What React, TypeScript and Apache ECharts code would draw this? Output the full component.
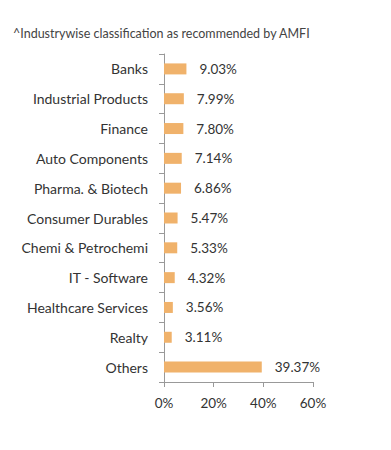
import React, { useEffect, useRef } from "react";
import * as echarts from "echarts";

const categories = [
  "Banks",
  "Industrial Products",
  "Finance",
  "Auto Components",
  "Pharma. & Biotech",
  "Consumer Durables",
  "Chemi & Petrochemi",
  "IT - Software",
  "Healthcare Services",
  "Realty",
  "Others",
];
const values = [9.03, 7.99, 7.8, 7.14, 6.86, 5.47, 5.33, 4.32, 3.56, 3.11, 39.37];
const xTicks = [0, 20, 40, 60];
const title = "^Industrywise classification as recommended by AMFI";

export default function App() {
  const ref = useRef<HTMLDivElement>(null);
  useEffect(() => {
    if (!ref.current) return;
    const chart = echarts.init(ref.current, null, { renderer: "svg" });
    chart.setOption({
      animation: false,
      textStyle: { fontFamily: "Lato" },
      title: {
        text: title,
        left: 0,
        top: 14,
        textStyle: { fontSize: 12.5, fontWeight: "normal", color: "#444", fontFamily: "Lato" },
      },
      grid: { left: 156, right: 78, top: 46, bottom: 60, containLabel: false },
      xAxis: {
        type: "value",
        min: xTicks[0],
        max: xTicks[xTicks.length - 1],
        interval: 20,
        splitLine: { show: false },
        axisLine: { show: true, lineStyle: { color: "#999" } },
        axisTick: { show: true, length: 5, lineStyle: { color: "#999" } },
        axisLabel: { formatter: "{value}%", color: "#333", fontSize: 13.5, margin: 14 },
      },
      yAxis: {
        type: "category",
        inverse: true,
        data: categories,
        axisLine: { lineStyle: { color: "#999" } },
        axisTick: { show: true, length: 5, lineStyle: { color: "#999" } },
        axisLabel: { color: "#333", fontSize: 14, margin: 16 },
      },
      series: [
        {
          type: "bar",
          data: values,
          barWidth: 11,
          itemStyle: { color: "#F0B26B" },
          label: {
            show: true,
            position: "right",
            distance: 13,
            color: "#333",
            fontSize: 13.5,
            formatter: (p: any) => p.value.toFixed(2) + "%",
          },
        },
      ],
    });
    return () => chart.dispose();
  }, []);
  return <div ref={ref} style={{ width: 383, height: 434 }} />;
}
